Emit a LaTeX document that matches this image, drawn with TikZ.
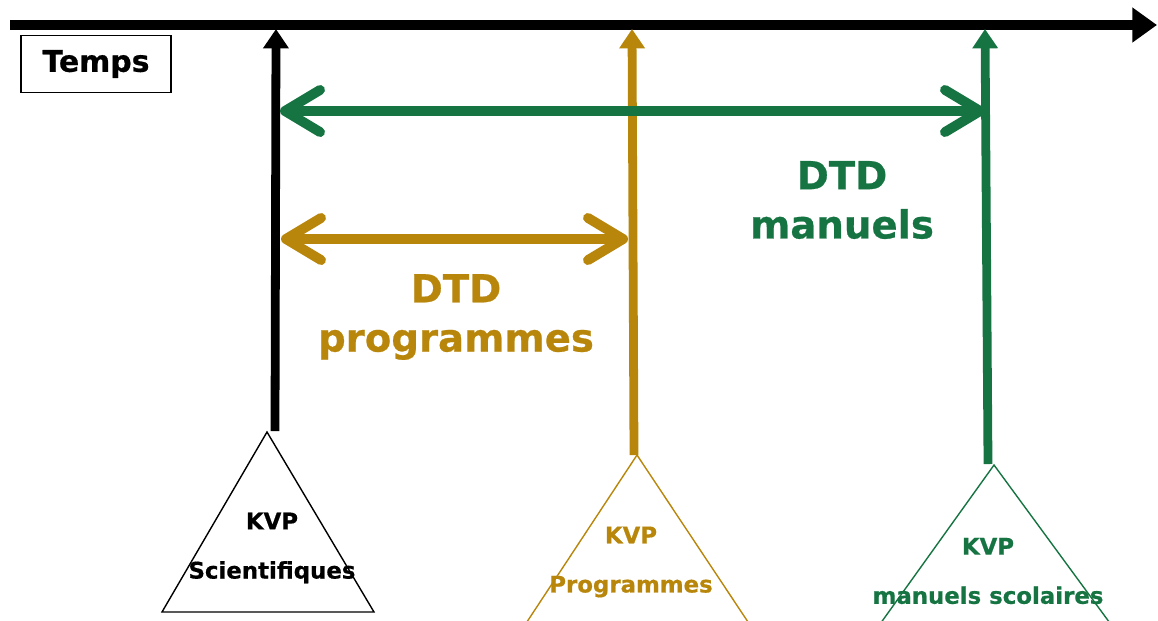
\documentclass[tikz,border=0pt]{standalone}
\usepackage{fontspec}
\setmainfont{DejaVu Sans}[BoldFeatures={FakeBold=0.6}]
\usetikzlibrary{arrows.meta}
\definecolor{dtdgold}{RGB}{184,134,11}
\definecolor{dtdgreen}{RGB}{22,116,66}

\begin{document}
\begin{tikzpicture}[x=0.02cm,y=-0.02cm,
    kvp/.style={font=\bfseries\fontsize{13}{28}\selectfont,align=center},
    dtd/.style={font=\bfseries\fontsize{22}{28}\selectfont,align=center},
    riser/.style={line width=5pt,-{Triangle[length=11pt,width=14pt]}},
    dtdspan/.style={line width=5.6pt,{Straight Barb[length=20pt,width=24pt,round]}-{Straight Barb[length=20pt,width=24pt,round]}}]
  \useasboundingbox (0,0) rectangle (1158,620);
  \clip (0,0) rectangle (1158,620);
  % time axis
  \coordinate (t0) at (10,25);
  \coordinate (t1) at (1157,25);
  \draw[line width=6pt,-{Triangle[length=14pt,width=19pt]}] (t0) -- (t1);
  \node[draw,line width=0.8pt,minimum width=3cm,minimum height=1.14cm,font=\bfseries\fontsize{17}{20}\selectfont] (temps) at (96,64) {Temps};
  % the three KVP triangles
  \draw[line width=0.8pt] (267,432) -- (162,612) -- (374,612) -- cycle;
  \draw[line width=0.8pt,dtdgold] (637,455) -- (515,640) -- (760,640) -- cycle;
  \draw[line width=0.8pt,dtdgreen] (994,465) -- (865,645) -- (1126,645) -- cycle;
  \node[kvp] (sciLbl) at (272,548) {KVP\\Scientifiques};
  \node[kvp,text=dtdgold] (progLbl) at (631,562) {KVP\\Programmes};
  \node[kvp,text=dtdgreen] (manLbl) at (988,571) {KVP\\manuels scolaires};
  % risers up to the axis
  \coordinate (sciFoot) at (275,431);
  \coordinate (progFoot) at (634,455);
  \coordinate (manFoot) at (988,464);
  \coordinate (sciT) at (276,29);
  \coordinate (progT) at (632,29);
  \coordinate (manT) at (985,29);
  \draw[riser] (sciFoot) -- (sciT);
  \draw[riser,dtdgold] (progFoot) -- (progT);
  \draw[riser,dtdgreen] (manFoot) -- (manT);
  % the two DTD spans
  \coordinate (manL) at (280,111);
  \coordinate (manR) at (985,111);
  \coordinate (progL) at (281,239);
  \coordinate (progR) at (628,239);
  \draw[dtdspan,dtdgreen] (manL) -- (manR);
  \draw[dtdspan,dtdgold] (progL) -- (progR);
  \node[dtd,text=dtdgreen] (manDtd) at (842,200) {DTD\\manuels};
  \node[dtd,text=dtdgold] (progDtd) at (456,317) {DTD\\programmes};
\end{tikzpicture}
\end{document}
